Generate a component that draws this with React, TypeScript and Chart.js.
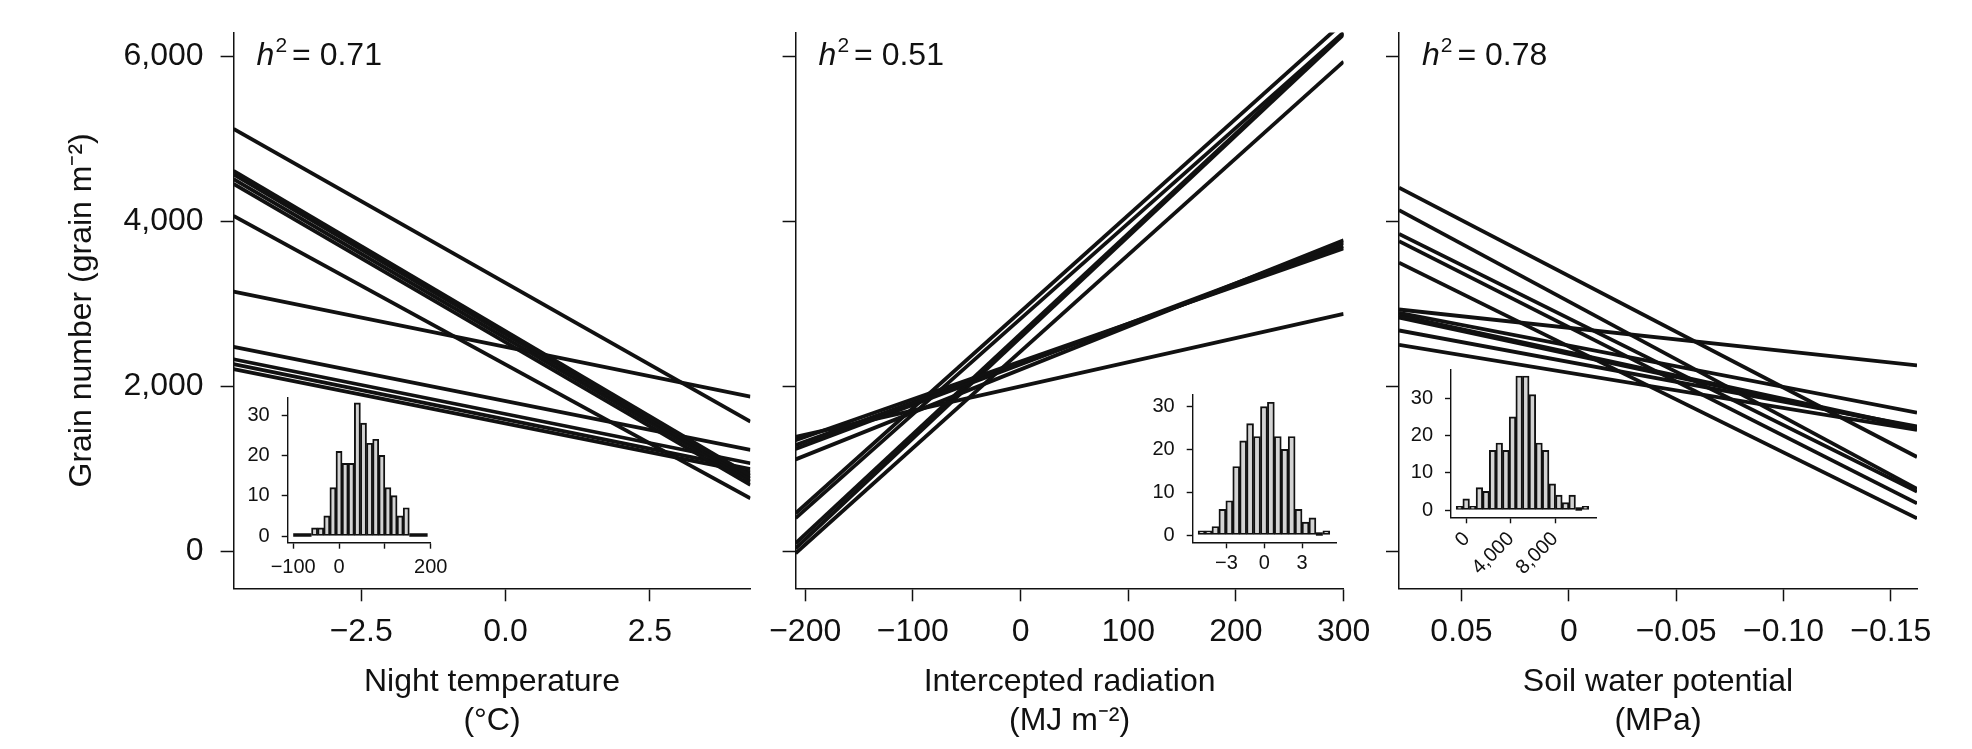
import React, { useEffect, useRef } from 'react';
import { Chart, registerables } from 'chart.js';

Chart.register(...registerables);

const W = 1972;
const H = 749;
const FONT = '"Liberation Sans", Arial, Helvetica, sans-serif';
const INK = '#111111';

// ---------- shared y axis: grain number ----------
const grainTicks = [0, 2000, 4000, 6000];
const grainTickLabels = ['0', '2,000', '4,000', '6,000'];
const grainRange = [-445, 6289];
const grainTitle = 'Grain number (grain m\u207B\u00B2)';

// ---------- panel 1: night temperature ----------
const nightTempRange = [-4.71, 4.24];
const nightTempStart = [5121, 4611, 4571, 4513, 4455, 4068, 3150, 2480, 2330, 2270, 2210];
const nightTempEnd = [1574, 920, 888, 850, 807, 646, 1877, 1231, 1070, 1000, 960];
const nightTempTicks = [-2.5, 0, 2.5];
const nightTempTickLabels = ['\u22122.5', '0.0', '2.5'];
const nightTempTitle = ['Night temperature', '(\u00B0C)'];
const nightTempH2 = '0.71';

// ---------- panel 2: intercepted radiation ----------
const radiationRange = [-208.9, 300];
const radiationStart = [1389, 1348, 1290, 1244, 1117, 463, 405, 100, 40, -20];
const radiationEnd = [2881, 3674, 3700, 3740, 3772, 6414, 6290, 6280, 6265, 5936];
const radiationTicks = [-200, -100, 0, 100, 200, 300];
const radiationTickLabels = ['\u2212200', '\u2212100', '0', '100', '200', '300'];
const radiationTitle = ['Intercepted radiation', '(MJ m\u207B\u00B2)'];
const radiationH2 = '0.51';

// ---------- panel 3: soil water potential ----------
const soilRange = [0.0791, -0.1622];
const soilStart = [4409, 4137, 3848, 3761, 3500, 2933, 2893, 2860, 2835, 2679, 2505];
const soilEnd = [1146, 760, 726, 585, 403, 2257, 1683, 1500, 1490, 1516, 1473];
const soilTicks = [0.05, 0, -0.05, -0.1, -0.15];
const soilTickLabels = ['0.05', '0', '\u22120.05', '\u22120.10', '\u22120.15'];
const soilTitle = ['Soil water potential', '(MPa)'];
const soilH2 = '0.78';

// ---------- inset histograms ----------
const countTicks = [0, 10, 20, 30];
const countTickLabels = ['0', '10', '20', '30'];

const inset1Breaks = [-100, -86.7, -73.3, -60, -46.7, -33.3, -20, -6.7, 6.7, 20, 33.3, 46.7, 60, 73.3, 86.7, 100, 113.3, 126.7, 140, 153.3, 166.7, 180, 193.3];
const inset1Counts = [0, 0, 0, 2, 2, 5, 12, 21, 18, 18, 33, 28, 23, 24, 20, 12, 10, 5, 7, 0, 0, 0];
const inset1Ticks = [-100, 0, 100, 200];
const inset1TickLabels = ['\u2212100', '0', '', '200'];
const inset1XRange = [-112, 200];
const inset1YRange = [-1.66, 34.4];

const inset2Breaks = [-5.25, -4.7, -4.15, -3.6, -3.05, -2.5, -1.95, -1.4, -0.85, -0.3, 0.25, 0.8, 1.35, 1.9, 2.45, 3.0, 3.55, 4.1, 4.65, 5.2];
const inset2Counts = [1, 1, 2, 6, 8, 16, 22, 26, 23, 30, 31, 23, 20, 23, 6, 3, 4, 0, 1];
const inset2Ticks = [-3, 0, 3];
const inset2TickLabels = ['\u22123', '0', '3'];
const inset2XRange = [-5.68, 5.75];
const inset2YRange = [-1.7, 32.7];

const inset3Breaks = [-950, -350, 250, 850, 1450, 2050, 2650, 3250, 3850, 4450, 5050, 5650, 6250, 6850, 7450, 8050, 8650, 9250, 9850, 10450, 11050];
const inset3Counts = [1, 3, 1, 6, 5, 16, 18, 16, 25, 36, 36, 31, 18, 16, 7, 4, 2, 4, 0, 1];
const inset3Ticks = [0, 4000, 8000];
const inset3TickLabels = ['0', '4,000', '8,000'];
const inset3XRange = [-1422, 11710];
const inset3YRange = [-1.96, 37.6];

type Area = { left: number; right: number; top: number; bottom: number };

const MAIN_FONT = 32;
const INSET_FONT = 20;

function zeroPad(s: any) {
  s.paddingLeft = 0;
  s.paddingRight = 0;
  s.paddingTop = 0;
  s.paddingBottom = 0;
}

const h2Plugin = (value: string) => ({
  id: 'h2label',
  afterDraw(chart: any) {
    const { ctx, chartArea } = chart;
    let x = chartArea.left + 23;
    const y = 65;
    ctx.save();
    ctx.fillStyle = INK;
    ctx.textAlign = 'left';
    ctx.textBaseline = 'alphabetic';
    ctx.font = `italic ${MAIN_FONT}px ${FONT}`;
    ctx.fillText('h', x, y);
    x += ctx.measureText('h').width + 1;
    ctx.font = `21px ${FONT}`;
    ctx.fillText('2', x, y - 13);
    x += ctx.measureText('2').width + 5;
    ctx.font = `${MAIN_FONT}px ${FONT}`;
    ctx.fillText('= ' + value, x, y);
    ctx.restore();
  },
});

// outlines of empty (zero-count) histogram cells, drawn as R's hist does
const zeroBinPlugin = (breaks: number[], counts: number[]) => ({
  id: 'histZeroBins',
  afterDatasetsDraw(chart: any) {
    const { ctx, scales } = chart;
    const y0 = scales.y.getPixelForValue(0);
    ctx.save();
    ctx.strokeStyle = INK;
    ctx.lineWidth = 3.4;
    ctx.beginPath();
    counts.forEach((c, i) => {
      if (c !== 0) return;
      ctx.moveTo(scales.x.getPixelForValue(breaks[i]), y0 - 1);
      ctx.lineTo(scales.x.getPixelForValue(breaks[i + 1]), y0 - 1);
    });
    ctx.stroke();
    ctx.restore();
  },
});

type PanelSpec = {
  range: number[];
  starts: number[];
  ends: number[];
  ticks: number[];
  tickLabels: string[];
  title: string[];
  h2: string;
  showY: boolean;
  reverse: boolean;
  area: Area;
};

function panelConfig(p: PanelSpec): any {
  const datasets = p.starts.map((s, i) => ({
    data: [
      { x: p.range[0], y: s },
      { x: p.range[1], y: p.ends[i] },
    ],
    borderColor: INK,
    borderWidth: 3.8,
    pointRadius: 0,
    fill: false,
    tension: 0,
  }));
  const grid = {
    drawOnChartArea: false,
    drawTicks: true,
    tickLength: 13,
    tickWidth: 1.5,
    tickColor: INK,
  };
  const border = { display: true, color: INK, width: 1.5 };
  return {
    type: 'line',
    data: { datasets },
    options: {
      responsive: false,
      animation: false,
      devicePixelRatio: 1,
      events: [],
      layout: { padding: { left: 0, top: p.area.top, right: W - p.area.right, bottom: 0 } },
      plugins: { legend: { display: false }, tooltip: { enabled: false } },
      scales: {
        x: {
          type: 'linear',
          position: 'bottom',
          min: Math.min(p.range[0], p.range[1]),
          max: Math.max(p.range[0], p.range[1]),
          reverse: p.reverse,
          afterBuildTicks: (s: any) => {
            s.ticks = p.ticks.map((v) => ({ value: v }));
          },
          afterFit: (s: any) => {
            s.height = H - p.area.bottom;
            zeroPad(s);
          },
          grid,
          border,
          ticks: {
            autoSkip: false,
            maxRotation: 0,
            minRotation: 0,
            padding: 12,
            color: INK,
            font: { family: FONT, size: MAIN_FONT },
            callback: (_v: any, i: number) => p.tickLabels[i] ?? '',
          },
          title: {
            display: true,
            text: p.title,
            color: INK,
            font: { family: FONT, size: MAIN_FONT, lineHeight: 1.2 },
            padding: { top: 0, bottom: 9 },
          },
        },
        y: {
          type: 'linear',
          position: 'left',
          min: grainRange[0],
          max: grainRange[1],
          afterBuildTicks: (s: any) => {
            s.ticks = grainTicks.map((v) => ({ value: v }));
          },
          afterFit: (s: any) => {
            s.width = p.area.left;
            zeroPad(s);
          },
          grid,
          border,
          ticks: {
            display: p.showY,
            padding: 17,
            color: INK,
            font: { family: FONT, size: MAIN_FONT },
            callback: (_v: any, i: number) => grainTickLabels[i] ?? '',
          },
          title: {
            display: p.showY,
            text: grainTitle,
            color: INK,
            font: { family: FONT, size: MAIN_FONT, lineHeight: 1.2 },
            padding: { top: 63, bottom: 0 },
          },
        },
      },
    },
    plugins: [h2Plugin(p.h2)],
  };
}

type InsetSpec = {
  breaks: number[];
  counts: number[];
  ticks: number[];
  tickLabels: string[];
  xRange: number[];
  yRange: number[];
  rotation: number;
  labelPad: number;
  area: Area;
};

function insetConfig(s: InsetSpec): any {
  const data = s.counts.map((c, i) => ({ x: (s.breaks[i] + s.breaks[i + 1]) / 2, y: c }));
  const grid = {
    drawOnChartArea: false,
    drawTicks: true,
    tickLength: 6,
    tickWidth: 1.4,
    tickColor: INK,
    offset: false,
  };
  const border = { display: true, color: INK, width: 1.4 };
  return {
    type: 'bar',
    data: {
      datasets: [
        {
          data,
          backgroundColor: '#d3d3d3',
          borderColor: INK,
          borderWidth: 1.9,
          borderSkipped: false,
          barPercentage: 1,
          categoryPercentage: 1,
        },
      ],
    },
    options: {
      responsive: false,
      animation: false,
      devicePixelRatio: 1,
      events: [],
      layout: { padding: { left: 0, top: s.area.top, right: W - s.area.right, bottom: 0 } },
      plugins: { legend: { display: false }, tooltip: { enabled: false } },
      scales: {
        x: {
          type: 'linear',
          offset: false,
          min: s.xRange[0],
          max: s.xRange[1],
          afterBuildTicks: (sc: any) => {
            sc.ticks = s.ticks.map((v) => ({ value: v }));
          },
          afterFit: (sc: any) => {
            sc.height = H - s.area.bottom;
            zeroPad(sc);
          },
          grid,
          border,
          ticks: {
            autoSkip: false,
            minRotation: s.rotation,
            maxRotation: s.rotation,
            padding: s.labelPad,
            color: INK,
            font: { family: FONT, size: INSET_FONT },
            callback: (_v: any, i: number) => s.tickLabels[i] ?? '',
          },
        },
        y: {
          type: 'linear',
          min: s.yRange[0],
          max: s.yRange[1],
          afterBuildTicks: (sc: any) => {
            sc.ticks = countTicks.map((v) => ({ value: v }));
          },
          afterFit: (sc: any) => {
            sc.width = s.area.left;
            zeroPad(sc);
          },
          grid,
          border,
          ticks: {
            padding: 12,
            color: INK,
            font: { family: FONT, size: INSET_FONT },
            callback: (_v: any, i: number) => countTickLabels[i] ?? '',
          },
        },
      },
    },
    plugins: [zeroBinPlugin(s.breaks, s.counts)],
  };
}

const TOP = 32.5;
const BOTTOM = 588.3;

const panels: PanelSpec[] = [
  {
    range: nightTempRange, starts: nightTempStart, ends: nightTempEnd,
    ticks: nightTempTicks, tickLabels: nightTempTickLabels, title: nightTempTitle,
    h2: nightTempH2, showY: true, reverse: false,
    area: { left: 233.6, right: 750.4, top: TOP, bottom: BOTTOM },
  },
  {
    range: radiationRange, starts: radiationStart, ends: radiationEnd,
    ticks: radiationTicks, tickLabels: radiationTickLabels, title: radiationTitle,
    h2: radiationH2, showY: false, reverse: false,
    area: { left: 795.6, right: 1343.6, top: TOP, bottom: BOTTOM },
  },
  {
    range: soilRange, starts: soilStart, ends: soilEnd,
    ticks: soilTicks, tickLabels: soilTickLabels, title: soilTitle,
    h2: soilH2, showY: false, reverse: true,
    area: { left: 1399, right: 1917, top: TOP, bottom: BOTTOM },
  },
];

const insets: InsetSpec[] = [
  {
    breaks: inset1Breaks, counts: inset1Counts, ticks: inset1Ticks, tickLabels: inset1TickLabels,
    xRange: inset1XRange, yRange: inset1YRange, rotation: 0, labelPad: 7,
    area: { left: 287.7, right: 430.7, top: 397.3, bottom: 542.7 },
  },
  {
    breaks: inset2Breaks, counts: inset2Counts, ticks: inset2Ticks, tickLabels: inset2TickLabels,
    xRange: inset2XRange, yRange: inset2YRange, rotation: 0, labelPad: 3,
    area: { left: 1192.7, right: 1336.7, top: 395, bottom: 542.3 },
  },
  {
    breaks: inset3Breaks, counts: inset3Counts, ticks: inset3Ticks, tickLabels: inset3TickLabels,
    xRange: inset3XRange, yRange: inset3YRange, rotation: 45, labelPad: 4,
    area: { left: 1451, right: 1596, top: 370, bottom: 517.3 },
  },
];

function ChartCanvas({ makeConfig }: { makeConfig: () => any }) {
  const ref = useRef<HTMLCanvasElement | null>(null);
  useEffect(() => {
    if (!ref.current) return;
    const chart = new Chart(ref.current, makeConfig());
    return () => chart.destroy();
  }, []);
  return (
    <canvas
      ref={ref}
      width={W}
      height={H}
      style={{ position: 'absolute', left: 0, top: 0, width: W, height: H }}
    />
  );
}

export default function App() {
  return (
    <div
      style={{
        position: 'absolute',
        left: 0,
        top: 0,
        width: W,
        height: H,
        background: '#ffffff',
        overflow: 'hidden',
      }}
    >
      {panels.map((p, i) => (
        <ChartCanvas key={'p' + i} makeConfig={() => panelConfig(p)} />
      ))}
      {insets.map((s, i) => (
        <ChartCanvas key={'i' + i} makeConfig={() => insetConfig(s)} />
      ))}
    </div>
  );
}
